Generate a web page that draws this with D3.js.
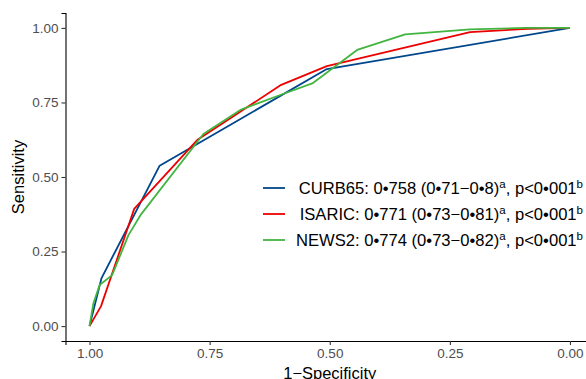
<!DOCTYPE html>
<html>
<head>
<meta charset="utf-8">
<script src="https://cdn.jsdelivr.net/npm/d3@7"></script>
<style>
    body { margin: 0; background: #fff; }
    svg { font-family: "Liberation Sans", Arial, sans-serif; display: block; }
</style>
</head>
<body>
<div id="chart"></div>
<script>
// values (x is the axis value, 1 at the left)
var xTicks = [1.00, 0.75, 0.50, 0.25, 0.00];
var yTicks = [0.00, 0.25, 0.50, 0.75, 1.00];

var curbX = [1.00, 0.975, 0.854, 0.506, 0.00];
var curbY = [0.00, 0.161, 0.538, 0.862, 1.00];

var isaricX = [1.00, 0.976, 0.907, 0.776, 0.601, 0.506, 0.208, 0.089, 0.00];
var isaricY = [0.00, 0.067, 0.393, 0.624, 0.809, 0.872, 0.986, 0.997, 1.00];

var newsX = [1.00, 0.992, 0.979, 0.953, 0.919, 0.894, 0.763, 0.686, 0.603, 0.535, 0.443, 0.343, 0.208, 0.094, 0.00];
var newsY = [0.00, 0.076, 0.138, 0.171, 0.305, 0.372, 0.644, 0.725, 0.775, 0.815, 0.926, 0.978, 0.995, 1.00, 1.00];

var seriesNames = ['CURB65', 'ISARIC', 'NEWS2'];
var aucLabels = ['0•758 (0•71−0•8)', '0•771 (0•73−0•81)', '0•774 (0•73−0•82)'];
var pLabel = 'p<0•001';
var colors = ['#00468B', '#ED0000', '#42B540'];

function zip(xs, ys) {
    return xs.map(function(x, i) { return {x: x, y: ys[i]}; });
}

function drawRoc() {
    var series = [
        {name: seriesNames[0], pts: zip(curbX, curbY)},
        {name: seriesNames[1], pts: zip(isaricX, isaricY)},
        {name: seriesNames[2], pts: zip(newsX, newsY)}
    ];

    var w = 586, h = 379;
    var margin = {left: 65.5, right: 594, top: 13, bottom: 341};

    var svg = d3.select('#chart')
        .append('svg')
        .attr('width', w)
        .attr('height', h);

    var x = d3.scaleLinear().domain([1.05, -0.05]).range([margin.left, margin.right]);
    var y = d3.scaleLinear().domain([-0.05, 1.05]).range([margin.bottom, margin.top]);

    // axes
    var xAxis = svg.append('g')
        .attr('transform', 'translate(0,' + margin.bottom + ')')
        .call(d3.axisBottom(x).tickValues(xTicks).tickFormat(d3.format('.2f')).tickSize(4).tickPadding(3));

    var yAxis = svg.append('g')
        .attr('transform', 'translate(' + margin.left + ',0)')
        .call(d3.axisLeft(y).tickValues(yTicks).tickFormat(d3.format('.2f')).tickSize(4).tickPadding(3));

    [xAxis, yAxis].forEach(function(a) {
        a.select('.domain').attr('stroke', '#000').attr('stroke-width', 1.1);
        a.selectAll('.tick line').attr('stroke', '#333').attr('stroke-width', 1.1);
        a.selectAll('.tick text')
            .attr('fill', '#4d4d4d')
            .style('font-size', '13.5px')
            .style('font-family', '"Liberation Sans", Arial, sans-serif');
    });

    // axis titles
    svg.append('text')
        .attr('x', (x(1) + x(0)) / 2)
        .attr('y', 379)
        .attr('text-anchor', 'middle')
        .style('font-size', '16.5px')
        .text('1−Specificity');

    svg.append('text')
        .attr('transform', 'translate(24,' + ((y(0) + y(1)) / 2) + ')rotate(-90)')
        .attr('text-anchor', 'middle')
        .style('font-size', '16.5px')
        .text('Sensitivity');

    // curves
    var line = d3.line()
        .x(function(d) { return x(d.x); })
        .y(function(d) { return y(d.y); });

    svg.selectAll('.roc')
        .data(series)
        .enter()
        .append('path')
        .attr('class', 'roc')
        .attr('fill', 'none')
        .attr('stroke', function(d, i) { return colors[i]; })
        .attr('stroke-width', 1.8)
        .attr('stroke-linejoin', 'round')
        .attr('d', function(d) { return line(d.pts); });

    // legend
    var legend = svg.append('g');
    var rowY = [188, 214, 240];

    seriesNames.forEach(function(name, i) {
        legend.append('line')
            .attr('x1', 263).attr('x2', 285)
            .attr('y1', rowY[i]).attr('y2', rowY[i])
            .attr('stroke', colors[i])
            .attr('stroke-width', 1.8);

        var t = legend.append('text')
            .attr('x', 583)
            .attr('y', rowY[i] + 6)
            .attr('text-anchor', 'end')
            .style('font-size', '16.6px')
            .attr('fill', '#000');
        t.append('tspan').text(name + ': ' + aucLabels[i]);
        t.append('tspan').attr('dy', -6).style('font-size', '11.5px').text('a');
        t.append('tspan').attr('dy', 6).text(', ' + pLabel);
        t.append('tspan').attr('dy', -6).style('font-size', '11.5px').text('b');
    });
}

drawRoc();
</script>
</body>
</html>
